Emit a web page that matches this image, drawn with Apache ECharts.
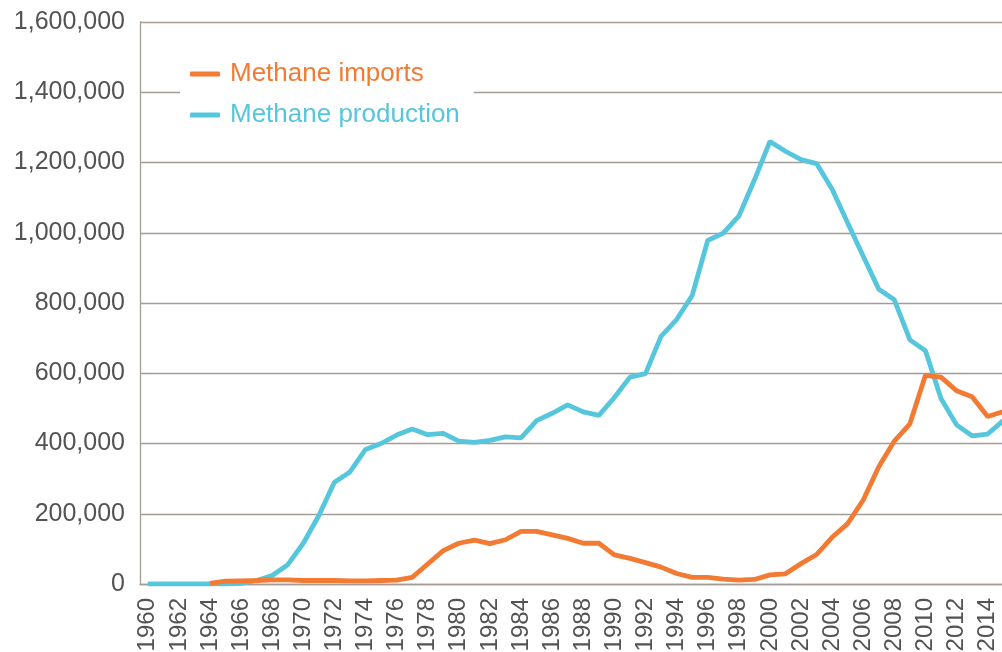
<!DOCTYPE html>
<html>
<head>
<meta charset="utf-8">
<title>Methane imports and production</title>
<script src="https://cdn.jsdelivr.net/npm/echarts@6/dist/echarts.min.js"></script>
<style>
  html, body { margin: 0; padding: 0; background: #fff; }
  #chart { width: 1002px; height: 652px; }
</style>
</head>
<body>
<div id="chart"></div>
<script>
// 年份（类目轴）
const years = [
    '1960', '1961', '1962', '1963', '1964', '1965', '1966', '1967', '1968', '1969',
    '1970', '1971', '1972', '1973', '1974', '1975', '1976', '1977', '1978', '1979',
    '1980', '1981', '1982', '1983', '1984', '1985', '1986', '1987', '1988', '1989',
    '1990', '1991', '1992', '1993', '1994', '1995', '1996', '1997', '1998', '1999',
    '2000', '2001', '2002', '2003', '2004', '2005', '2006', '2007', '2008', '2009',
    '2010', '2011', '2012', '2013', '2014', '2015'
];

// 进口量（1964年之前没有数据）
const methaneImports = [
    null, null, null, null, 2000, 8000, 9000, 10000, 12000, 12000,
    10000, 10000, 10000, 9000, 9000, 10000, 11000, 19000, 57000, 95000,
    116000, 125000, 115000, 126000, 150000, 150000, 140000, 130000, 116000, 116000,
    83000, 73000, 61000, 48000, 30000, 19000, 19000, 14000, 11000, 13000,
    26000, 29000, 58000, 84000, 133000, 172000, 239000, 334000, 407000, 456000,
    594000, 589000, 550000, 533000, 477000, 491000
];

// 产量
const methaneProduction = [
    0, 0, 0, 0, 0, 0, 2000, 10000, 24000, 55000,
    116000, 195000, 290000, 319000, 383000, 400000, 424000, 441000, 425000, 429000,
    407000, 403000, 409000, 419000, 416000, 465000, 486000, 510000, 490000, 480000,
    531000, 589000, 599000, 705000, 753000, 821000, 978000, 999000, 1047000, 1150000,
    1260000, 1232000, 1208000, 1197000, 1124000, 1028000, 933000, 839000, 809000, 695000,
    664000, 528000, 453000, 422000, 427000, 465000
];

// y轴刻度
const yMin = 0;
const yMax = 1600000;
const yStep = 200000;

const seriesNames = ['Methane imports', 'Methane production'];

const orange = '#F37A32';
const blue = '#56C6DC';
const gridGray = '#a39c97';
const labelGray = '#525355';
const font = '"Liberation Sans", Arial, Helvetica, sans-serif';

// 千分位格式
function formatNumber(v) {
    return String(v).replace(/\B(?=(\d{3})+(?!\d))/g, ',');
}

const myChart = echarts.init(document.getElementById('chart'));

const option = {
    animation: false,
    backgroundColor: '#fff',
    textStyle: { fontFamily: font },
    grid: {
        left: 140,
        right: -9,
        top: 22,
        bottom: 68,
        outerBoundsMode: 'none'
    },
    legend: {
        orient: 'vertical',
        left: 180,
        top: 50,
        padding: [10, 14, 10, 10],
        backgroundColor: '#fff',
        icon: 'roundRect',
        itemWidth: 30,
        itemHeight: 5,
        itemGap: 13,
        data: [
            { name: seriesNames[0], textStyle: { color: orange } },
            { name: seriesNames[1], textStyle: { color: blue } }
        ],
        textStyle: {
            fontFamily: font,
            fontSize: 26,
            lineHeight: 28,
            padding: [0, 0, 0, 5]
        }
    },
    xAxis: {
        type: 'category',
        data: years,
        boundaryGap: true,
        axisLine: { lineStyle: { color: gridGray, width: 1.3 } },
        axisTick: {
            inside: true,
            length: 12,
            interval: 0,
            lineStyle: { color: gridGray, width: 1.3 }
        },
        axisLabel: {
            interval: 1,
            rotate: 90,
            margin: 14,
            color: labelGray,
            fontFamily: font,
            fontSize: 24
        },
        splitLine: { show: false }
    },
    yAxis: {
        type: 'value',
        min: yMin,
        max: yMax,
        interval: yStep,
        axisLine: { show: true, lineStyle: { color: gridGray, width: 1.3 } },
        axisTick: { show: false },
        axisLabel: {
            margin: 15,
            color: labelGray,
            fontFamily: font,
            fontSize: 25,
            formatter: formatNumber
        },
        splitLine: { lineStyle: { color: gridGray, width: 1.3 } }
    },
    series: [
        {
            name: seriesNames[1],
            type: 'line',
            data: methaneProduction,
            symbol: 'none',
            color: blue,
            lineStyle: { color: blue, width: 4.8 },
            z: 2
        },
        {
            name: seriesNames[0],
            type: 'line',
            data: methaneImports,
            symbol: 'none',
            color: orange,
            lineStyle: { color: orange, width: 4.8 },
            z: 3
        }
    ]
};

myChart.setOption(option);
</script>
</body>
</html>
